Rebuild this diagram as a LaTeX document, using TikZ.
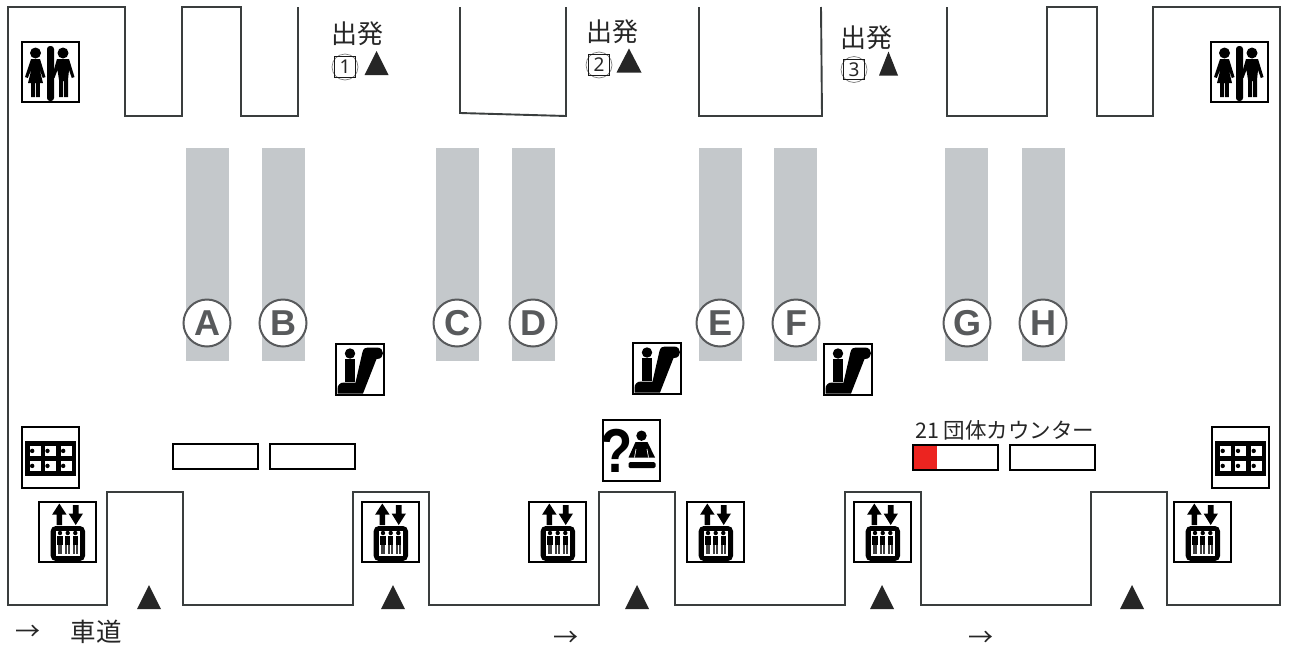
\documentclass[tikz,border=0pt]{standalone}
\usepackage{fontspec}
\setmainfont{Noto Sans CJK JP}
\newfontfamily\latinfont{Noto Sans}
\newfontfamily\gatefont{Liberation Sans}
\begin{document}
\begin{tikzpicture}[x=1pt,y=-1pt,
  wall/.style={draw=wallgray,line width=1.9pt,line join=miter},
  lane/.style={fill=lanegray,draw=none},
  gatecirc/.style={circle,draw=lettergray,fill=white,line width=2pt,minimum size=47pt,inner sep=0pt,font=\gatefont\bfseries\fontsize{36}{36}\selectfont,text=lettergray},
  jp/.style={inner sep=0pt,text=black!85},
  tri/.style={fill=black!85,draw=none},
  iconbox/.style={draw=black,line width=2pt,fill=white},
  counter/.style={draw=black,line width=1.4pt,fill=white},
  ink/.style={fill=black,draw=none},
  inklight/.style={fill=black!75,draw=none},
  pics/escal/.style={code={
    \draw[iconbox] (0,0) rectangle (48,51);
    \fill[ink] (14,9.5) circle (5.2);
    \fill[ink] (8.5,15) rectangle (18.5,38);
    \fill[ink] (1.5,49.5) -- (1.5,45) .. controls (1.5,41) and (4,38.5) .. (8,38.5) -- (19.5,38.5) -- (26.5,8) .. controls (27.5,4.5) and (29,3.5) .. (32,3.5) -- (41,3.5) .. controls (49,3.5) and (49,15) .. (41,15) -- (40.5,15) -- (27,49.5) -- cycle;
  }},
  pics/toilet/.style={code={
    \draw[iconbox] (0,0) rectangle (57,60);
    \fill[ink,rounded corners=3pt] (25,4) rectangle (32,59);
    \fill[ink] (13.5,11) circle (5.5);
    \fill[ink] (41,11) circle (5.5);
    % woman
    \fill[ink] (9,17) -- (18,17) -- (23.5,35) -- (20.8,36) -- (17.5,27) -- (21,41) -- (17.8,41) -- (17.8,55) -- (14,55) -- (14,41) -- (13,41) -- (13,55) -- (9.2,55) -- (9.2,41) -- (6,41) -- (9.5,27) -- (5.8,36) -- (3,35) -- cycle;
    % man
    \fill[ink] (35,17) -- (47,17) -- (52.5,35) -- (49.8,36) -- (47,28) -- (46,38) -- (46,55) -- (42,55) -- (42,39) -- (41,39) -- (41,55) -- (37,55) -- (37,38) -- (35.5,28) -- (32.5,36) -- (29.8,35) -- cycle;
  }},
  pics/locker/.style={code={
    \draw[iconbox] (0,0) rectangle (57,61);
    \fill[ink] (3.3,13.7) rectangle (54,49);
    \foreach \c in {8,23.3,39}{
      \foreach \r in {18.7,33.7}{
        \fill[white] (\c,\r) rectangle ++(11,10.5);
        \fill[ink] (\c+2.7,\r+5.2) circle (2.2);
      }}
  }},
  pics/lift/.style={code={
    \draw[iconbox] (0,0) rectangle (57,60);
    \fill[ink] (20.3,1.5) -- (27.5,12.5) -- (23.2,12.5) -- (23.2,23) -- (17.6,23) -- (17.6,12.5) -- (13.2,12.5) -- cycle;
    \fill[ink] (36.7,23) -- (44,11.5) -- (39.6,11.5) -- (39.6,3) -- (33.8,3) -- (33.8,11.5) -- (29.6,11.5) -- cycle;
    \fill[ink,rounded corners=5pt] (11.7,24) rectangle (46,59);
    \fill[white] (17,28.5) rectangle (41,54);
    \foreach \c in {21,28.7,36.3}{
      \fill[ink] (\c,31) circle (2.2);
      \fill[ink] (\c-2.7,33.8) rectangle (\c+2.7,42.5);
      \fill[inklight] (\c-2.3,42.5) rectangle (\c-0.4,52);
      \fill[inklight] (\c+0.4,42.5) rectangle (\c+2.3,52);
    }
  }},
  pics/info/.style={code={
    \draw[iconbox] (0,0) rectangle (57,61);
    \node[inner sep=0pt,xscale=.85,font=\gatefont\bfseries\fontsize{62}{62}\selectfont,text=black] at (13.5,31) {?};
    \fill[ink] (38.5,15.7) circle (5.2);
    \fill[ink] (32.5,22) -- (44.5,22) -- (52,37.5) -- (25.5,37.5) -- cycle;
    \draw[white,line width=.7pt] (33,29) -- (31.5,37.5) (44,29) -- (45.5,37.5);
    \fill[ink,rounded corners=1.5pt] (25.5,42) rectangle (52.5,48);
  }}
]
\definecolor{wallgray}{RGB}{58,62,62}
\definecolor{lanegray}{RGB}{196,200,203}
\definecolor{lettergray}{RGB}{88,90,92}
\definecolor{counterred}{RGB}{236,36,32}
\useasboundingbox (0,0) rectangle (1290,646);
\fill[white] (0,0) rectangle (1290,646);

% walls
\draw[wall] (298,7) -- (298,116) -- (241,116) -- (241,7) -- (182,7) -- (182,116) -- (125,116) -- (125,7) -- (8,7) -- (8,605) -- (107,605) -- (107,492) -- (183,492) -- (183,605) -- (353,605) -- (353,492) -- (429,492) -- (429,605) -- (599,605) -- (599,492) -- (675,492) -- (675,605) -- (845,605) -- (845,492) -- (921,492) -- (921,605) -- (1091,605) -- (1091,492) -- (1167,492) -- (1167,605) -- (1280,605) -- (1280,7) -- (1153,7) -- (1153,116) -- (1097,116) -- (1097,7) -- (1047,7) -- (1047,116) -- (947,116) -- (947,7);
\draw[wall] (460,7) -- (460,113) -- (566,116) -- (566,7);
\draw[wall] (699,7) -- (699,116) -- (822,116) -- (821,7);

% lanes
\foreach \x in {186,262,436,512,699,774,945,1022}
  \fill[lane] (\x,148) rectangle ++(43,213);

% gate letters
\node[gatecirc] (ga) at (207,323) {A};
\node[gatecirc] (gb) at (283,323) {B};
\node[gatecirc] (gc) at (457,323) {C};
\node[gatecirc] (gd) at (533,323) {D};
\node[gatecirc] (ge) at (720,323) {E};
\node[gatecirc] (gf) at (796,323) {F};
\node[gatecirc] (gg) at (967,323) {G};
\node[gatecirc] (gh) at (1043,323) {H};

% departures
\node[jp,font=\fontsize{26}{26}\selectfont] (d1) at (357.5,34) {出発};
\node[jp,font=\fontsize{26}{26}\selectfont] (d2) at (612,31.5) {出発};
\node[jp,font=\fontsize{26}{26}\selectfont] (d3) at (866.5,38) {出発};
\foreach \cx/\cy/\n in {345/67/1,599/65/2,854/69.5/3}{
  \draw[black!50,line width=.7pt] (\cx,\cy) circle (13);
  \draw[black!90,line width=1.2pt] (\cx-10.3,\cy-10.3) rectangle (\cx+10.3,\cy+10.3);
  \node[jp,font=\latinfont\fontsize{19}{19}\selectfont] at (\cx,\cy) {\n};
}
\foreach \tx/\ty/\hw/\th in {376.5/75/12/24,629/72.5/12.5/24,888.5/75.5/9.5/24,149/609/12/24,393/609/12/24,637/609/12/24,882/609/12/24,1132/609/12/24}
  \fill[tri] (\tx-\hw,\ty) -- (\tx,\ty-\th) -- (\tx+\hw,\ty) -- cycle;

% icons
\pic at (336,344) {escal};
\pic at (633,343) {escal};
\pic at (824,344) {escal};
\pic at (22,42) {toilet};
\pic at (1211,42) {toilet};
\pic at (603,420) {info};
\pic at (21.5,427) {locker};
\pic at (1212,427) {locker};
\pic at (39,502) {lift};
\pic at (362,502) {lift};
\pic at (529,502) {lift};
\pic at (687,502) {lift};
\pic at (854,502) {lift};
\pic at (1174,502) {lift};

% counters
\draw[counter] (173,444) rectangle (258,469);
\draw[counter] (270,444) rectangle (355,469);
\draw[counter] (913,445) rectangle (998,470);
\fill[counterred] (914,446) rectangle (937,469);
\draw[counter] (1010,445) rectangle (1095,470);
\node[jp,font=\fontsize{21.5}{21.5}\selectfont,anchor=west] (ct) at (915,430) {21 団体カウンター};

% road
\node[jp,font=\fontsize{25}{25}\selectfont] (a1) at (28,633) {→};
\node[jp,font=\fontsize{25.5}{25.5}\selectfont] (road) at (96,632) {車道};
\node[jp,font=\fontsize{25}{25}\selectfont] (a2) at (566,639) {→};
\node[jp,font=\fontsize{25}{25}\selectfont] (a3) at (981,639) {→};
\end{tikzpicture}
\end{document}
